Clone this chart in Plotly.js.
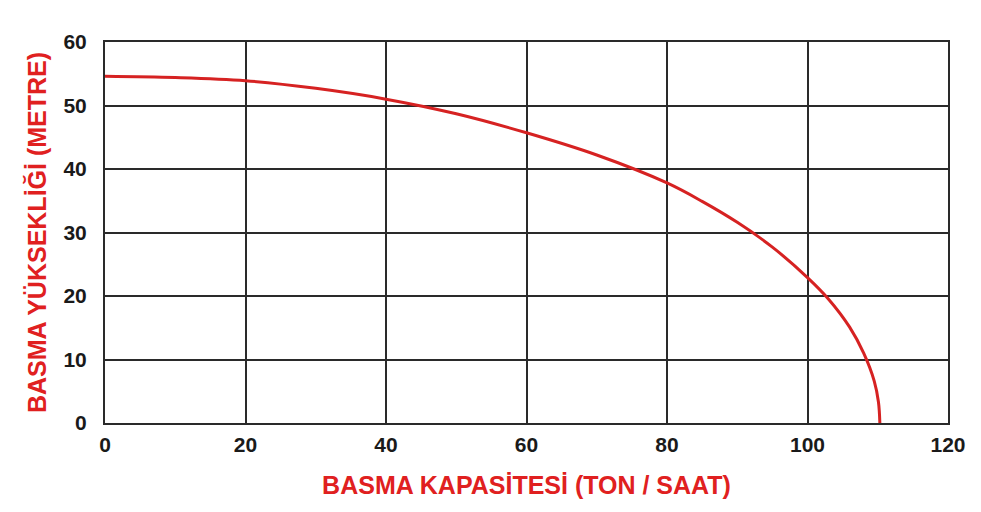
<!DOCTYPE html>
<html>
<head>
<meta charset="utf-8">
<script src="https://cdn.plot.ly/plotly-3.0.1.min.js"></script>
<style>html,body{margin:0;padding:0;background:#fff;}#chart{width:981px;height:512px;}</style>
</head>
<body>
<div id="chart"></div>
<script>
const capacity = [0, 10, 20, 30, 40, 50, 60, 70, 80, 85, 90, 95, 100, 103, 106, 108, 109.5, 110.1, 110.3];
const head = [54.6, 54.4, 53.9, 52.7, 51.0, 48.7, 45.7, 42.2, 37.8, 34.9, 31.6, 27.7, 22.9, 19.5, 15.1, 11.0, 6.6, 3.3, 0];
const xTicks = [0, 20, 40, 60, 80, 100, 120];
const yTicks = [0, 10, 20, 30, 40, 50, 60];
const xTitle = 'BASMA KAPASİTESİ (TON / SAAT)';
const yTitle = 'BASMA YÜKSEKLİĞİ (METRE)';

const tickFont = {family: 'Liberation Sans, Arial', size: 21, color: '#1a1a1a', weight: 'bold'};
const titleFont = {family: 'Liberation Sans, Arial', size: 25, color: '#e02020', weight: 'bold'};

Plotly.newPlot('chart', [{
  x: capacity, y: head, type: 'scatter', mode: 'lines',
  line: {color: '#d62222', width: 3, shape: 'spline', smoothing: 1},
  hoverinfo: 'none'
}], {
  width: 981, height: 512,
  margin: {l: 105, r: 33, t: 42, b: 89},
  paper_bgcolor: '#fff', plot_bgcolor: '#fff',
  showlegend: false,
  xaxis: {
    range: [0, 120], tickvals: xTicks, ticktext: xTicks.map(String),
    showgrid: true, gridcolor: '#2a2a2a', gridwidth: 2,
    showline: true, linecolor: '#2a2a2a', linewidth: 2, mirror: true,
    zeroline: false, ticks: '', ticklen: 0, tickfont: tickFont, ticklabelstandoff: 2,
    title: {text: xTitle, font: titleFont, standoff: 21}
  },
  yaxis: {
    range: [0, 60], tickvals: yTicks, ticktext: yTicks.map(String),
    showgrid: true, gridcolor: '#2a2a2a', gridwidth: 2,
    showline: true, linecolor: '#2a2a2a', linewidth: 2, mirror: true,
    zeroline: false, ticks: '', ticklen: 0, tickfont: tickFont, ticklabelstandoff: 12,
    title: {text: yTitle, font: titleFont, standoff: 10}
  }
}, {staticPlot: true});
</script>
</body>
</html>
